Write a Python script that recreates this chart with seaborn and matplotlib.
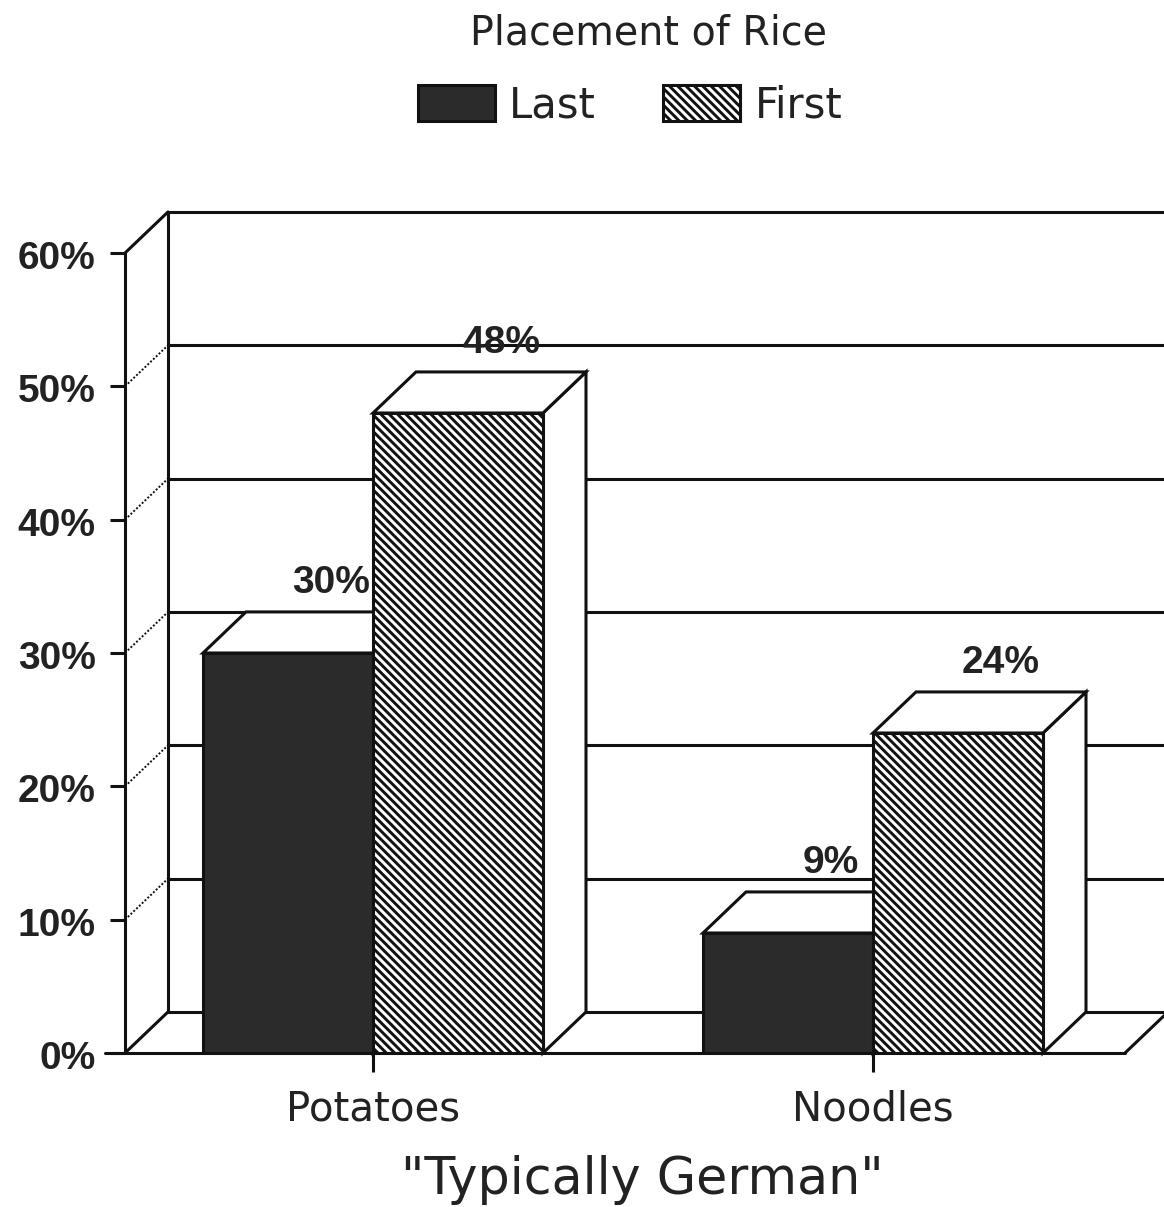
import pandas as pd
import seaborn as sns
import matplotlib.pyplot as plt
from matplotlib.transforms import ScaledTranslation

categories = ["Potatoes", "Noodles"]
placement = ["Last", "First"]
last_values = [30, 9]
first_values = [48, 24]
y_ticks = [0, 10, 20, 30, 40, 50, 60]

# the fake 3d depth, in data units
DX = 0.086
DY = 3.08
LINE = 2.2
BOLD = ["Liberation Sans", "DejaVu Sans"]

sns.set_theme(style="white")
plt.rcParams["font.family"] = ["DejaVu Sans"]
plt.rcParams["hatch.linewidth"] = 2.1
plt.rcParams["hatch.color"] = "#111111"

df = pd.DataFrame({
    "food": categories * 2,
    "placement": [placement[0]] * 2 + [placement[1]] * 2,
    "value": last_values + first_values,
})

fig = plt.figure(figsize=(11.64, 12.07), dpi=100)
ax = fig.add_axes([125 / 1164, (1207 - 1053) / 1207, (1164 - 125) / 1164, 800 / 1207])

sns.barplot(data=df, x="food", y="value", hue="placement", order=categories,
            hue_order=placement, palette={"Last": "#2b2b2b", "First": "white"},
            width=0.68, gap=0, saturation=1, edgecolor="#111111", linewidth=LINE,
            legend=False, ax=ax)

x0, x1 = (125 - 373) / 500, (1164 - 373) / 500
ax.set_xlim(x0, x1)
ax.set_ylim(0, 60)
for side in ax.spines.values():
    side.set_visible(False)


def frame(xs, ys, **kw):
    style = dict(color="#111111", lw=LINE, clip_on=False, zorder=1, solid_capstyle="round")
    style.update(kw)
    ax.plot(xs, ys, **style)


# back wall and left wall
xb = x0 + DX
xr = x1 + 0.01
frame([x0, x0], [0, 60])
frame([xb, xb], [DY, 60 + DY])
for level in y_ticks:
    frame([xb, xr], [level + DY, level + DY])
    if level in (0, 60):
        frame([x0, xb], [level, level + DY])
    else:
        frame([x0, xb], [level, level + DY], lw=1.4, ls=(0, (1, 1)))
# floor
frame([x0 - 0.04, 1.504], [0, 0], zorder=5)
frame([1.504, 1.59], [0, DY])

# bars with their side and top faces
for n, bar in enumerate(ax.patches):
    x, w, h = bar.get_x(), bar.get_width(), bar.get_height()
    bar.set_zorder(4)
    if n >= 2:
        bar.set_hatch("\\\\\\\\")
    ax.fill([x + w, x + w + DX, x + w + DX, x + w], [0, DY, h + DY, h],
            facecolor="white", edgecolor="#111111", lw=LINE, zorder=3, clip_on=False)
    ax.fill([x, x + DX, x + w + DX, x + w], [h, h + DY, h + DY, h],
            facecolor="white", edgecolor="#111111", lw=LINE, zorder=3, clip_on=False)
    ax.text(x + w / 2 + DX, h + 5.25, f"{h:.0f}%", ha="center", va="center", family=BOLD,
            fontsize=28, fontweight="bold", color="#222222", zorder=6)

ax.set_yticks(y_ticks)
ax.set_yticklabels([f"{t}%" for t in y_ticks], fontsize=28, fontweight="bold", color="#222222",
                   family=BOLD)
ax.tick_params(axis="y", length=11, width=LINE, color="#111111", pad=10, left=True)
ax.tick_params(axis="x", length=14, width=LINE, color="#111111", pad=12, bottom=True,
               labelsize=29, labelcolor="#222222")
# y labels sit a little below their ticks
nudge = ScaledTranslation(0, -2 / 100, fig.dpi_scale_trans)
for tick in ax.yaxis.get_major_ticks():
    tick.label1.set_transform(tick.label1.get_transform() + nudge)

ax.set_ylabel("")
ax.set_xlabel('"Typically German"', fontsize=36.5, color="#222222", va="baseline")
ax.xaxis.set_label_coords((642 - 125) / 1039, -0.176)

leg = ax.legend(handles=[ax.patches[0], ax.patches[2]], labels=placement, title="Placement of Rice",
                ncol=2, frameon=False, loc="center", bbox_to_anchor=(630 / 1164, 1 - 70 / 1207),
                bbox_transform=fig.transFigure, fontsize=30, title_fontsize=28.5,
                handlelength=1.85, handleheight=0.95, handletextpad=0.35, columnspacing=1.6,
                labelcolor="#222222", borderpad=0)
leg.get_title().set_color("#222222")
leg.get_title().set_position((18, 0))
leg._legend_box.sep = 22

fig.savefig("out.png", dpi=100)
